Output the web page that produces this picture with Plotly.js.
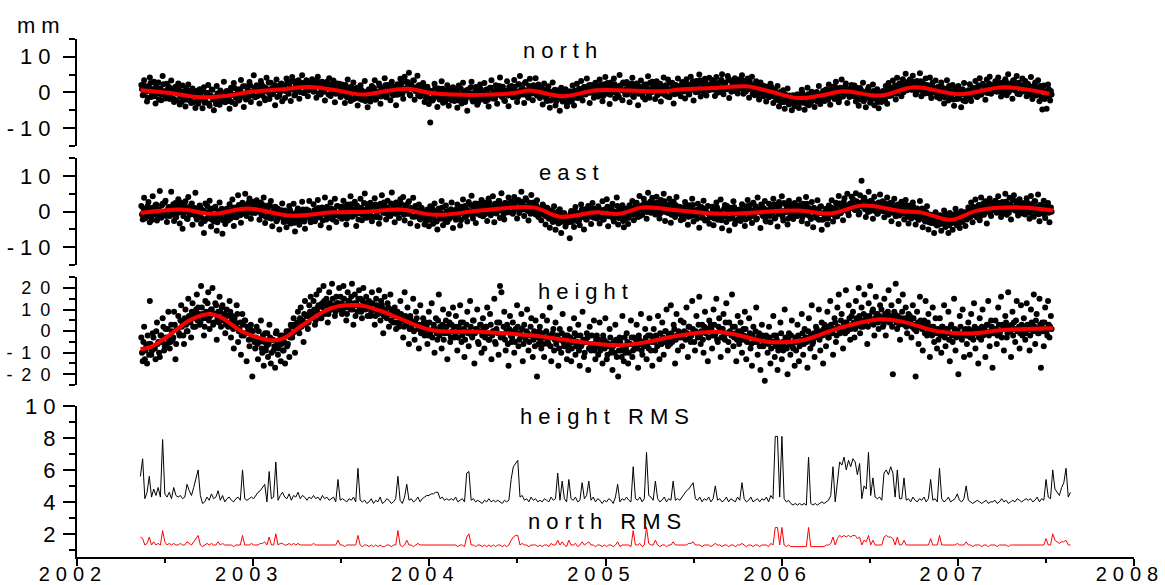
<!DOCTYPE html>
<html>
<head>
<meta charset="utf-8">
<script src="https://cdn.plot.ly/plotly-3.0.1.min.js"></script>
<style>
html,body{margin:0;padding:0;background:#fff;}
#chart{width:1165px;height:585px;}
.ytick text,.y2tick text,.y4tick text{letter-spacing:6px;}
.y3tick text{letter-spacing:9px;}
.x4tick text{letter-spacing:6px;}
.annotation-text{letter-spacing:6px;}
</style>
</head>
<body>
<div id="chart"></div>
<script>
// ---- axis ticks / labels ----
const yearTicks = [2002, 2003, 2004, 2005, 2006, 2007, 2008];
const yearLabels = ['2002', '2003', '2004', '2005', '2006', '2007', '2008'];
const halfYearTicks = [2002.5, 2003.5, 2004.5, 2005.5, 2006.5, 2007.5];
const neTicks = [-10, 0, 10];
const neLabels = ['-10', '0', '10'];
const neMinor = [-15, -5, 5, 15];
const hTicks = [-20, -10, 0, 10, 20];
const hLabels = ['-20', '-10', '0', '10', '20'];
const hMinor = [-25, -15, -5, 5, 15, 25];
const rmsTicks = [2, 4, 6, 8, 10];
const rmsLabels = ['2', '4', '6', '8', '10'];
const rmsMinor = [1, 3, 5, 7, 9];

// ---- daily solutions (mm); set A at scatterStart + i*step, set B half a step later ----
const scatterStart = 2002.365;
const scatterStep = 0.00808;

const northValues = [
 2.1,-0.8,3.4,0.5,-2.6,1.7,4.2,-1.3,0.9,3.0,-3.1,1.2,2.8,-0.4,-2.2,4.6,0.3,-1.7,2.4,1.0,
 -1.9,3.3,0.8,-2.7,1.6,-0.3,2.5,-3.4,0.1,1.9,-2.1,-4.0,0.6,2.2,-1.2,-3.0,1.1,-0.7,-4.4,0.4,
 -3.2,0.9,-1.8,-4.5,1.4,-2.6,-0.2,2.1,-3.8,-1.1,0.7,-5.0,-2.3,1.8,-0.9,-3.5,0.2,-1.6,3.0,-2.8,
 0.4,-2.4,-4.6,1.3,-0.6,2.6,-3.3,-1.5,0.8,-2.0,3.5,-0.3,-4.1,1.7,-1.2,0.5,2.9,-2.7,-0.1,4.8,
 -1.4,2.0,0.6,-3.1,3.2,-0.8,1.5,-2.2,4.1,0.1,-1.9,2.7,-0.5,1.1,-3.6,3.6,0.9,-1.0,2.3,-2.5,
 1.8,-1.6,3.9,0.3,2.6,-2.4,4.3,1.0,-0.7,3.1,0.6,-1.8,2.2,4.8,-0.2,1.5,3.4,-1.1,0.8,2.9,
 3.7,0.2,1.9,-1.5,4.4,2.3,-0.6,3.0,0.9,-2.3,2.6,1.2,4.0,-1.0,0.4,3.3,-2.8,1.7,0.0,2.4,
 -1.3,2.2,0.7,-3.0,1.4,3.6,-0.9,-2.4,0.3,2.8,-1.7,1.0,-3.7,0.5,2.0,-2.1,-0.4,3.2,-1.5,-4.2,
 0.9,-2.6,1.8,-0.7,3.4,-1.9,0.2,2.5,-3.2,1.1,-0.3,4.0,-1.4,2.1,0.6,-2.2,3.0,-0.8,1.5,-3.6,
 2.3,-0.5,3.8,1.2,-1.8,4.4,0.6,2.9,5.5,-0.9,1.7,3.3,-2.1,0.8,4.7,2.0,-1.2,0.1,2.6,-2.7,
 -1.5,1.6,-3.3,-8.5,0.4,-2.0,2.4,-0.7,-4.1,1.1,-1.6,3.1,-2.9,0.0,-0.9,2.0,-3.8,0.7,-2.2,1.4,
 -2.4,0.8,-4.3,1.9,-1.1,-3.1,2.7,0.1,-1.9,-5.2,0.9,-0.4,3.0,-2.6,-1.3,1.5,-3.5,0.3,2.2,-2.0,
 -0.8,2.6,-2.5,0.7,-4.0,1.3,3.4,-1.7,-0.2,2.0,-3.2,0.9,4.2,-1.0,1.6,-2.3,0.3,3.1,-3.9,0.5,
 1.8,-1.4,3.5,0.2,-2.7,2.3,4.6,-0.6,1.0,-3.0,2.9,0.6,-1.5,3.8,1.4,-2.2,0.8,4.0,-0.9,2.2,
 -1.6,1.1,-3.4,2.5,-0.5,-2.4,1.7,-4.3,0.0,2.8,-1.9,-3.7,0.6,-0.8,-5.2,1.3,-2.6,-1.2,0.9,-3.9,
 -2.8,0.3,-1.3,1.9,-3.7,-0.2,2.4,-1.6,0.8,3.2,-2.3,1.5,-0.6,3.9,0.4,-3.0,2.1,1.0,-1.5,2.7,
 1.9,-1.2,3.6,0.4,-2.5,2.3,4.3,-0.4,1.2,-3.3,2.8,0.0,3.9,-1.7,1.6,-0.9,4.9,0.7,-2.2,2.4,
 -0.6,2.9,0.8,-2.8,1.7,4.1,-1.3,0.3,2.5,-3.6,1.2,3.3,-0.7,0.9,-2.0,2.2,4.5,-1.5,0.6,3.0,
 1.4,-1.9,3.1,0.1,2.4,-2.6,0.9,4.2,-0.8,1.8,3.6,-1.4,0.5,2.7,-3.1,1.2,-0.3,3.9,0.8,-1.1,
 2.9,0.4,-1.7,3.7,1.5,-0.6,4.4,2.0,-2.3,1.0,3.2,0.2,5.0,-1.2,2.5,0.7,3.8,-0.9,1.9,4.1,
 0.8,3.5,1.6,-1.0,4.3,2.2,0.0,3.0,5.1,-0.5,2.6,1.1,4.6,-1.6,3.3,1.8,0.4,4.0,2.4,-0.3,
 3.6,1.2,4.8,-0.4,2.5,0.6,3.9,-1.5,2.0,4.4,0.9,-0.8,3.1,1.6,-2.0,2.8,0.3,-1.1,1.7,-2.6,
 1.5,-1.4,2.4,-0.3,-3.0,0.9,-2.1,1.8,-4.0,-0.9,-2.7,0.6,-4.6,-1.7,1.1,-3.4,-2.3,-5.0,-0.8,-3.9,
 -3.2,-0.5,-4.4,-1.8,0.7,-2.9,-4.9,-1.0,1.3,-3.6,-2.2,0.2,-1.4,-4.1,-0.3,-2.6,1.8,-3.3,-1.5,0.4,
 -2.4,0.8,-1.3,2.2,-3.5,0.2,1.6,-1.9,3.0,-0.6,-2.8,1.3,3.6,-1.2,0.5,2.5,-3.0,0.9,-0.4,2.1,
 -1.0,1.9,-2.6,0.6,-3.8,1.2,-0.7,2.7,-2.0,-4.2,0.3,1.5,-2.9,-0.3,2.2,-3.6,-1.5,0.9,-4.5,-0.8,
 -2.7,0.4,-1.5,1.8,-3.2,2.6,0.1,-0.9,3.3,1.4,-2.0,4.1,0.9,2.5,-1.1,3.7,1.7,5.2,0.6,2.9,
 3.6,0.8,4.7,2.1,-0.6,3.2,1.3,5.4,-1.1,2.5,0.4,3.9,-0.2,1.9,4.2,-1.6,2.8,0.1,3.3,-1.3,
 1.6,-1.7,2.8,-0.4,-3.1,1.0,3.4,-2.3,0.2,-1.0,2.1,-3.8,0.7,-1.9,1.8,-0.5,-4.2,0.9,2.6,-2.5,
 -1.8,0.6,2.3,-2.4,1.1,-0.2,3.2,-1.3,1.9,4.0,-0.7,2.4,0.3,-2.1,3.6,1.0,4.4,-0.4,2.0,0.8,
 3.1,0.2,4.2,1.6,-1.2,2.8,0.6,3.7,-0.8,5.1,1.3,2.5,-1.8,3.4,0.9,4.6,2.0,-0.5,1.8,3.9,
 0.9,3.2,-1.1,2.3,0.0,4.3,-1.9,1.5,2.8,-0.6,3.4,-2.5,0.7,-4.8,1.9,-1.4,-4.6,2.2,-0.9,0.4
];
const northValuesB = [
 0.9,-0.7,1.8,0.2,-1.5,1.2,2.6,-0.3,0.7,-1.1,1.9,0.4,-2.0,1.1,-0.5,2.3,0.0,-1.3,0.8,1.5,
 -0.6,1.0,-1.8,0.3,-2.2,-0.1,1.4,-1.2,-2.6,0.2,-0.9,1.1,-2.1,-0.4,-1.6,0.6,-2.8,-1.0,0.0,-1.9,
 -2.4,-0.5,-1.7,0.4,-2.9,-1.2,-0.2,-3.1,-0.9,0.8,-2.0,-1.4,-3.3,-0.3,-1.8,0.5,-2.6,-1.1,-0.6,-2.2,
 -0.4,-1.9,0.6,-2.7,-0.8,1.2,-1.5,-0.1,-2.3,0.9,-1.0,1.7,-0.6,-2.0,0.3,-1.2,1.9,0.1,-0.9,1.3,
 0.8,-1.1,1.6,-0.4,2.3,0.2,-1.6,1.2,0.5,2.8,-0.7,1.0,-0.2,2.1,0.6,-1.3,1.8,0.0,2.5,0.9,
 1.9,0.3,2.7,-0.4,1.3,3.1,0.8,-0.9,2.2,1.0,3.4,0.1,1.7,2.6,-0.2,1.4,3.0,0.6,2.0,1.2,
 2.4,0.6,1.7,3.2,-0.3,1.9,0.9,2.8,0.2,1.4,3.0,-0.6,1.1,2.2,0.4,1.6,-0.4,2.5,0.8,0.0,
 1.2,-0.8,0.5,2.1,-1.4,0.9,-0.3,1.6,-2.0,0.1,-1.0,1.3,-0.5,-1.8,0.7,-1.2,0.2,-2.4,-0.7,0.6,
 -1.5,0.4,-0.9,1.2,-2.1,0.0,-0.6,1.8,-1.2,0.7,-0.2,2.0,-1.0,1.1,0.3,2.4,-0.4,1.5,0.8,-0.7,
 1.6,0.2,2.5,-0.3,1.1,3.0,0.7,1.9,-0.6,2.2,1.0,3.3,0.4,1.5,-0.8,2.0,0.6,-0.2,1.3,0.1,
 -0.9,0.7,-1.7,0.2,-2.3,-0.5,1.3,-1.1,0.4,-2.0,-0.2,1.0,-1.5,-2.6,0.5,-0.8,-1.9,0.8,-0.4,-1.3,
 -1.4,0.3,-2.2,-0.6,1.0,-1.8,-0.1,-2.7,0.6,-1.1,-0.4,1.4,-2.0,-0.9,0.2,-1.6,-3.0,-0.3,0.9,-1.2,
 -0.2,-1.5,0.8,-2.1,-0.5,1.3,-1.0,0.2,-1.8,1.0,-0.7,1.8,-0.1,-1.3,0.6,-2.4,0.3,-0.9,1.5,-0.4,
 0.7,-0.9,1.6,0.1,-1.4,2.2,0.5,1.2,-0.6,2.6,0.2,-1.1,1.8,0.9,-0.3,2.0,0.4,1.4,-0.8,0.6,
 -0.1,1.2,-1.0,0.4,-1.9,0.9,-0.6,-2.3,0.2,-1.3,0.7,-2.6,-0.8,-1.6,0.1,-2.1,-1.0,-0.3,-2.8,-1.4,
 -1.8,-0.3,-2.4,-0.9,0.5,-1.5,-0.2,1.0,-1.1,0.3,-0.6,1.5,-0.4,0.8,2.0,-0.1,1.1,0.4,-0.8,1.6,
 1.3,-0.4,2.1,0.5,-1.0,1.7,0.0,2.6,0.8,-0.7,1.4,0.2,2.3,-0.2,1.0,-1.3,1.9,0.6,2.8,0.3,
 0.9,-0.6,1.8,0.3,2.5,-1.1,1.2,0.1,2.0,-0.4,1.5,0.7,-1.4,2.2,0.4,1.1,-0.7,2.7,0.0,1.6,
 0.5,1.7,-0.8,1.0,2.4,-0.3,1.3,0.2,2.0,-1.2,0.8,2.7,0.0,1.5,-0.5,2.1,0.9,-0.1,1.8,1.2,
 1.9,0.3,2.6,1.1,-0.4,2.2,0.7,3.1,1.4,0.0,2.4,1.0,3.4,0.5,1.7,-0.2,2.8,1.3,0.6,2.0,
 2.3,0.8,3.0,1.5,-0.1,2.6,1.1,3.5,0.5,1.9,2.8,0.9,3.8,1.3,0.2,2.4,1.7,3.2,0.7,2.1,
 2.6,1.0,3.3,1.8,0.2,2.4,0.9,3.0,1.4,-0.3,2.1,0.6,1.7,-0.5,1.2,0.3,1.9,-0.8,0.8,0.1,
 0.9,-0.5,1.5,0.0,-1.2,0.6,-1.8,-0.3,-2.4,0.2,-1.0,-2.7,-0.6,-1.6,-3.0,-0.9,-2.2,-1.3,-3.2,-1.9,
 -2.3,-0.8,-3.0,-1.5,-0.2,-2.6,-1.1,-3.3,-0.5,-1.9,-2.8,-0.9,-1.4,-2.2,0.1,-1.7,-0.6,-2.5,-1.0,-0.3,
 -1.5,0.2,-2.1,-0.6,0.9,-1.2,-0.2,1.5,-0.9,0.4,-1.7,1.1,0.0,-0.7,1.8,-0.4,0.7,-1.3,1.2,0.3,
 0.5,-1.2,1.3,-0.4,-2.0,0.8,-0.9,-2.5,0.2,-1.5,0.9,-0.6,-2.2,-1.0,0.4,-1.8,-0.3,-2.7,-1.1,-0.2,
 -1.6,0.1,-2.2,-0.5,0.8,-1.0,1.3,-0.2,0.6,1.9,-0.4,1.2,2.4,0.5,1.7,0.0,2.2,1.0,2.9,1.5,
 2.2,0.7,2.9,1.3,0.0,2.5,1.0,3.1,0.4,1.8,-0.3,2.1,0.8,1.5,-0.6,1.9,0.2,1.2,-0.2,0.9,
 0.8,-0.7,1.5,0.1,-1.4,0.9,-0.3,1.8,-1.1,0.4,-2.0,0.0,1.2,-0.8,-1.7,0.6,-0.5,-2.3,0.2,-1.0,
 -0.9,0.5,-1.6,0.2,1.3,-0.6,0.9,-1.2,1.8,0.3,-0.4,2.1,0.8,1.4,-0.2,2.5,0.6,1.1,2.0,0.4,
 1.8,0.4,2.6,1.1,-0.3,2.2,0.8,3.0,1.5,0.1,2.4,1.0,3.3,0.6,1.9,-0.4,2.7,1.3,0.2,2.0,
 1.7,0.3,2.4,0.9,-0.6,1.5,0.0,2.1,-0.9,1.1,-0.3,1.8,-1.4,0.6,-1.9,0.2,-1.0,0.9,-2.3,-0.6
];

const eastValues = [
 1.6,-2.2,3.9,0.3,-1.4,2.7,-3.0,0.9,4.3,-0.8,1.9,-2.5,0.4,5.8,-1.7,2.2,-0.3,3.1,-2.9,1.1,
 -1.2,5.6,0.7,-2.6,2.4,-0.5,3.5,-3.3,1.3,-4.8,0.0,2.9,-1.9,4.1,-0.9,1.8,-3.7,0.6,5.3,-2.2,
 -1.5,1.7,-3.4,0.4,-6.0,2.3,-2.0,-0.6,3.1,-4.2,0.9,-2.8,1.4,-5.4,-0.3,2.6,-1.9,-6.2,0.2,-3.5,
 0.8,-2.5,2.1,-0.9,3.4,-4.0,1.2,-1.6,4.6,0.3,-3.1,2.5,0.9,5.0,-1.2,1.9,3.7,-2.0,0.6,2.8,
 -0.4,3.2,1.1,-2.3,2.6,-0.8,4.0,-3.2,0.5,1.7,-1.8,3.0,-4.1,-0.3,1.4,-2.7,0.8,-5.0,-1.1,2.3,
 -2.9,0.3,-4.4,-1.2,1.6,-3.3,-0.5,2.2,-5.6,-1.8,0.9,-3.7,-0.1,2.8,-2.4,-4.8,0.6,-1.5,3.0,-3.0,
 -0.9,2.1,-2.7,0.6,3.3,-1.6,-3.8,1.2,-0.4,4.0,-2.2,0.8,-4.5,2.6,-1.1,0.1,3.6,-2.9,1.5,-0.7,
 1.4,-2.0,3.1,0.2,-3.6,2.0,-0.9,4.3,-1.4,0.7,2.8,-4.0,1.0,-0.4,3.6,-2.4,0.4,5.1,-1.7,2.1,
 -0.7,2.5,-2.7,1.1,3.8,-1.5,0.4,-3.4,2.2,4.6,-0.3,1.6,-2.2,3.1,0.5,-1.2,5.4,0.9,-3.0,2.6,
 1.2,-1.8,3.5,0.0,4.1,-2.5,1.7,-0.6,2.9,-3.3,0.8,3.9,-1.4,0.3,-4.0,2.0,-2.2,1.0,-0.9,-3.6,
 -2.6,0.6,-4.1,1.5,-1.2,-3.4,2.3,-0.2,-5.0,0.9,-2.0,3.0,-3.8,-0.8,1.7,-2.9,0.2,-1.6,2.6,-4.6,
 0.3,-2.3,2.0,-0.7,-3.9,1.4,3.4,-1.5,0.6,-2.8,2.7,-0.1,4.5,-1.9,1.0,-3.2,2.2,0.4,-1.0,3.3,
 -1.3,2.6,0.5,-2.6,3.7,1.2,-0.5,4.3,-3.0,1.9,0.0,3.0,-1.8,5.2,0.8,-2.2,2.4,-0.2,4.0,1.5,
 2.8,-0.6,4.1,1.0,-1.9,3.3,0.3,5.6,2.1,-1.2,3.8,0.9,-2.5,2.5,4.7,0.1,1.7,-0.8,3.2,-1.5,
 0.4,-2.4,2.0,-0.9,-3.6,1.1,-1.7,-4.5,0.0,-2.9,1.5,-5.1,-1.0,-3.3,0.7,-6.0,-2.3,-0.4,-4.2,-1.6,
 -3.0,-7.5,0.2,-1.9,-4.3,1.3,-2.6,-0.5,-3.8,2.0,-1.4,-5.0,0.7,-2.2,1.6,-0.9,-3.5,2.4,-1.7,0.4,
 -1.9,1.5,-3.3,0.4,2.9,-2.1,-0.6,3.5,-4.1,0.9,-1.3,2.2,-2.8,-0.1,4.0,-3.6,0.6,-1.7,1.8,-4.4,
 -2.1,0.9,-3.5,1.8,-0.7,3.0,-2.4,0.3,2.5,-1.5,4.4,0.7,-0.9,3.6,1.4,-2.0,5.3,2.2,-0.3,3.9,
 2.4,-0.8,4.2,1.1,-1.9,3.3,0.0,5.0,-2.6,1.7,-0.4,3.6,-3.1,0.6,2.8,-1.5,4.1,-0.2,1.4,-2.4,
 1.2,-2.1,2.7,-0.5,-3.7,1.8,-1.2,3.6,-2.8,0.3,-0.9,2.2,-4.5,0.8,-1.7,3.1,-2.5,-0.2,1.6,-3.4,
 -1.6,1.4,-3.8,0.5,2.6,-2.3,-0.4,3.4,-4.7,-1.1,1.9,-2.9,0.2,-5.3,1.1,-1.8,2.9,-3.5,0.0,-2.2,
 0.6,-2.6,2.1,-0.9,-4.0,1.5,3.3,-1.8,0.4,-3.2,2.5,-0.2,-2.2,4.0,0.9,-4.6,1.7,-1.3,3.0,-2.8,
 -1.0,2.2,-3.0,0.5,3.6,-1.9,1.1,-4.2,2.7,-0.6,4.3,-2.5,0.2,1.9,-3.6,3.1,-0.9,0.8,-2.1,2.4,
 1.5,-1.2,3.4,0.0,-2.7,2.2,-0.6,4.1,-3.4,1.0,-1.6,2.7,-4.4,0.5,-0.9,3.2,-2.3,1.3,-5.1,-0.4,
 -2.0,0.8,-3.6,1.7,-0.5,3.2,-2.8,0.2,2.5,-1.3,4.4,-0.3,1.6,-2.4,3.8,0.9,5.0,-1.0,2.3,4.2,
 3.5,0.6,5.2,2.1,-0.8,4.6,8.7,1.3,3.9,-1.5,2.7,5.6,0.1,3.1,-2.0,4.2,1.7,-0.6,2.6,4.8,
 0.3,2.9,-1.6,1.9,4.0,-0.8,2.4,-2.7,0.9,3.6,-1.3,1.4,-3.5,0.6,2.8,-0.4,-2.2,3.3,0.0,-3.3,
 1.7,-1.9,2.6,-0.7,-3.6,0.9,-2.3,3.0,-1.3,-4.4,0.4,-2.8,1.5,-5.0,-0.9,-3.2,-1.7,-6.0,-0.2,-3.9,
 -3.7,-1.0,-5.4,-2.4,0.3,-4.3,-1.9,-6.0,-0.4,-3.2,-5.1,-1.5,0.8,-3.8,-2.2,-4.6,0.1,-2.8,-1.1,-4.0,
 -2.2,1.2,-0.8,2.6,-3.0,0.4,3.4,-1.6,1.7,-2.4,4.0,0.2,-0.9,2.9,-3.3,1.4,3.7,-1.2,0.6,2.5,
 3.1,-0.3,4.3,1.3,-1.5,2.7,0.5,5.0,-0.9,2.0,3.9,-2.2,1.1,4.6,0.3,2.9,-1.1,3.5,1.8,-0.5,
 2.4,-0.8,3.8,0.7,-2.0,4.4,1.4,-1.4,2.9,0.0,4.8,-2.7,1.9,-0.4,3.1,-1.8,0.9,2.4,-3.0,1.2
];
const eastValuesB = [
 -0.8,0.9,-1.9,0.2,1.6,-1.1,0.5,-2.3,1.2,-0.3,2.0,-1.5,0.7,-0.6,1.8,-0.1,2.6,-1.2,0.4,1.3,
 0.9,-0.8,2.1,0.3,-1.6,1.4,-0.2,2.6,0.6,-1.2,1.8,0.0,-2.1,1.1,0.5,2.3,-0.7,1.0,-1.4,0.4,
 -0.7,1.2,-1.8,0.3,-2.6,-0.2,1.5,-1.3,0.6,-2.2,-0.9,0.9,-1.6,-3.0,0.1,-1.1,0.8,-2.4,-0.4,-1.7,
 -1.2,0.4,-2.0,-0.5,1.1,-1.5,0.7,-0.1,1.9,-1.0,0.3,2.2,-0.6,1.4,0.0,2.6,0.8,-0.4,1.7,1.0,
 1.5,0.0,2.3,0.6,-1.0,1.9,0.3,-1.5,1.0,-0.4,1.6,-1.9,0.2,-0.9,1.2,-2.2,-0.3,-1.4,0.4,-1.8,
 -1.7,-0.2,-2.6,-1.0,0.5,-2.0,-0.6,-3.1,-1.3,0.2,-2.3,-0.8,-1.6,0.6,-2.8,-0.4,-1.2,0.3,-2.1,-0.7,
 -1.3,0.4,-2.1,-0.6,1.0,-1.5,0.0,-2.5,0.7,-0.9,1.4,-1.8,-0.3,0.9,-2.2,0.3,-1.1,1.6,-0.5,-1.4,
 0.6,-1.0,1.5,-0.4,-1.9,0.9,-0.2,2.1,-1.3,0.3,-0.7,1.7,-2.2,0.5,1.1,-0.9,2.4,-0.3,0.8,-1.6,
 -0.5,1.1,-1.4,0.6,2.0,-0.8,0.9,-1.7,1.5,0.2,2.6,-0.4,1.2,-1.1,0.7,2.3,0.0,1.8,-0.6,1.0,
 1.4,-0.2,2.2,0.6,-0.9,1.7,0.1,2.5,-0.6,1.0,-1.4,0.4,1.6,-1.1,0.2,-2.0,0.8,-0.7,-1.6,0.0,
 -1.4,0.2,-2.3,-0.6,0.9,-1.8,-0.2,-2.8,0.5,-1.1,-0.4,1.2,-1.6,-2.5,0.1,-0.9,-2.0,0.7,-1.3,-0.3,
 -0.9,0.7,-1.8,0.1,-2.4,1.0,-0.5,1.6,-1.2,0.4,-0.3,1.9,-1.0,0.8,2.3,-0.6,1.3,0.0,1.9,-0.4,
 0.9,-0.7,1.8,0.3,2.6,-1.0,1.2,0.1,2.2,-0.5,1.5,3.0,0.4,1.9,-0.8,2.4,0.7,1.3,-0.2,2.8,
 1.5,0.0,2.4,0.9,3.1,-0.4,1.8,2.7,0.6,1.4,3.3,0.2,2.0,-0.6,1.2,2.6,0.4,1.7,-0.2,0.9,
 0.8,-0.6,1.5,0.0,-1.3,0.9,-2.0,-0.4,0.3,-1.7,-0.9,-2.6,0.0,-1.4,-3.0,-0.7,-2.2,-1.1,-3.3,-1.6,
 -2.1,-0.6,-2.9,-1.3,0.2,-1.9,-0.4,-2.5,-1.0,0.6,-1.5,-0.1,-2.2,0.4,-0.8,1.0,-1.4,-0.3,0.8,-1.1,
 -0.7,0.9,-1.6,0.2,-2.3,0.6,-0.9,1.4,-1.3,-0.2,1.1,-2.0,0.0,-1.0,1.6,-1.8,-0.4,0.8,-2.6,-0.6,
 -1.0,0.6,-1.7,0.0,1.2,-0.8,0.4,2.0,-0.3,1.0,-1.2,1.7,0.3,2.5,0.9,-0.1,1.6,2.8,0.5,1.9,
 1.7,0.2,2.5,0.9,-0.5,2.0,0.6,2.9,-0.1,1.3,0.4,2.2,-0.9,1.0,0.0,1.8,-0.6,1.1,0.3,-1.1,
 0.8,-0.8,1.5,0.1,-1.4,1.0,-0.5,1.9,-1.1,0.4,-2.0,0.7,-0.3,1.3,-1.7,-0.1,0.9,-2.3,-0.6,-1.2,
 -1.1,0.6,-1.9,-0.3,1.2,-1.5,0.1,-2.4,-0.7,0.9,-1.3,1.6,-0.2,-2.0,0.4,-1.0,1.3,-2.6,-0.5,0.2,
 -0.8,0.7,-1.6,0.2,-2.2,1.1,-0.4,1.8,-1.3,0.3,-0.9,1.5,-1.9,0.6,-0.2,2.0,-1.1,0.9,-2.5,0.0,
 0.5,-1.2,1.4,-0.3,2.1,-1.7,0.8,-0.6,1.7,0.2,-1.4,2.4,-0.2,1.1,-2.0,0.7,1.9,-0.9,0.4,1.3,
 0.9,-0.6,1.8,0.2,-1.5,1.3,-0.1,2.2,-1.0,0.6,-2.1,0.3,1.1,-0.8,-1.8,0.7,-0.4,1.5,-2.3,-0.7,
 -1.0,0.5,-1.9,0.0,1.2,-0.7,0.8,-1.4,1.7,0.2,2.3,-0.4,1.1,2.7,0.4,1.6,-0.2,2.0,1.0,2.6,
 2.1,0.5,2.9,1.2,-0.3,2.5,1.6,3.4,0.7,2.0,-0.1,1.5,3.1,0.9,2.3,0.2,1.8,-0.5,1.2,2.6,
 1.6,0.1,2.3,0.7,-0.8,1.9,0.3,2.6,-0.4,1.2,0.0,2.0,-1.1,0.8,1.5,-0.6,0.4,1.8,-1.4,0.2,
 0.6,-0.9,1.3,-0.3,-1.6,0.4,-2.2,-0.7,0.9,-1.4,-2.6,-0.2,-1.8,-3.0,-0.9,-2.3,-1.2,-3.4,-2.0,-1.5,
 -2.7,-1.2,-3.4,-1.9,-0.6,-2.9,-1.5,-3.8,-2.3,-0.9,-3.1,-1.7,-0.4,-2.5,-1.1,-3.0,-0.7,-1.9,-0.2,-1.4,
 -0.8,0.7,-1.5,0.2,1.4,-1.0,0.5,-0.3,1.9,-1.2,0.9,2.2,-0.4,1.3,0.1,2.5,-0.6,1.0,1.8,0.4,
 1.5,0.0,2.4,0.8,-0.6,1.9,0.4,2.8,1.2,-0.3,2.1,0.9,3.2,0.5,1.7,-0.1,2.6,1.3,0.2,2.0,
 1.8,0.4,2.5,1.0,-0.4,2.1,0.6,2.9,0.0,1.4,-0.7,1.9,0.3,1.2,-0.9,1.6,0.5,-0.3,1.1,0.0
];

const heightValues = [
 -3,-14,2,-9,-15,-6,14,-11,-1,-8,-13,4,-5,-12,-2,6,-9,1,-6,9,
 -8,3,-4,9,-13,1,7,-2,12,4,-6,10,0,15,6,-3,13,8,2,17,
 11,3,21,8,-2,14,6,18,1,10,20,4,13,-4,9,16,2,12,7,-1,
 10,2,14,-3,7,-8,4,12,-5,1,-11,8,-2,5,-14,0,-7,3,-21,-4,
 -8,2,-13,-5,5,-10,-16,-1,-7,-12,3,-15,-4,-9,-17,0,-11,-6,-14,-2,
 -9,-15,0,-6,-12,3,-3,6,-10,2,9,-1,11,4,-5,14,7,1,12,16,
 9,14,3,17,11,19,6,13,21,8,15,4,18,10,22,12,7,16,13,20,
 16,8,21,12,5,18,14,10,22,3,17,13,9,19,15,6,20,11,16,7,
 14,7,18,10,3,15,9,19,5,12,-1,16,8,13,2,17,10,4,11,1,
 9,2,14,6,-3,18,4,11,-6,7,1,15,-4,9,3,-8,12,0,6,-2,
 4,-6,9,-2,13,1,-10,6,-4,17,2,-8,10,-1,5,-13,8,-5,3,11,
 -3,7,-9,2,12,-5,4,-12,0,9,-7,14,-2,5,-15,1,10,-6,3,-10,
 6,-8,2,11,-4,8,-13,0,15,-6,4,-11,21,18,-2,9,-9,3,-16,7,
 -5,4,-10,1,12,-7,-1,8,-14,3,-4,10,-9,-2,6,-12,0,5,-21,-6,
 2,-8,7,-12,-3,5,-6,11,-14,-1,-9,4,-4,-16,1,-10,8,-7,-2,-13,
 -9,1,-14,-5,6,-11,-2,3,-16,-7,9,-12,-4,-1,-18,2,-9,-6,5,-13,
 -2,-11,4,-8,-15,-4,6,-13,-7,1,-10,-18,-5,3,-12,-21,-3,-9,7,-14,
 -10,-1,-15,-6,5,-12,-3,-8,3,-17,-4,8,-11,-7,1,-13,-2,6,-9,-16,
 1,-9,-3,7,-13,-6,4,-11,0,10,-7,-2,12,-5,3,-15,8,-9,-1,5,
 -7,4,-1,11,-12,2,-5,14,0,-9,7,-3,16,-6,3,-10,9,1,-14,5,
 3,-8,10,-2,15,-5,6,-12,1,8,-4,13,-9,4,-1,17,-7,2,-14,7,
 -6,4,-10,1,9,-13,-3,6,-8,-16,2,-5,11,-11,-1,-18,3,-7,-23,-2,
 -10,2,-15,-5,7,-12,-2,-18,-7,4,-13,-9,10,-4,-20,-1,-11,5,-8,-16,
 -9,3,-14,-6,8,-11,1,-3,-17,6,-8,12,-5,-12,2,-1,10,-9,4,-15,
 3,-7,9,-3,14,1,-11,6,-5,11,17,-1,8,-8,4,19,0,12,-4,7,
 9,-3,14,5,20,-1,11,2,17,7,-6,13,21,4,10,-2,16,8,1,12,
 10,2,15,-2,7,19,4,12,-20,9,22,1,14,-4,6,17,3,11,-1,8,
 7,-3,12,1,-21,9,-6,16,3,-9,5,14,-2,8,-12,2,11,-5,6,-8,
 -4,6,-10,2,12,-7,-1,9,-14,3,-5,15,-9,0,-20,7,-3,10,-12,1,
 -6,4,-11,8,-2,13,-8,1,-15,6,-4,10,-1,-12,3,14,-7,5,-17,0,
 5,-6,11,-1,16,3,-9,7,-3,18,0,-12,9,4,-5,14,1,-8,12,-2,
 6,-4,13,1,-9,10,3,17,-6,8,-1,15,-17,4,-7,11,0,14,-3,7
];
const heightValuesB = [
 -10,-5,-13,-7,-2,-11,-6,-9,-3,-8,0,-6,-10,-2,-5,2,-7,-3,1,-4,
 -5,0,-3,3,-6,1,-1,5,2,-2,6,3,0,7,4,9,2,6,10,5,
 8,4,11,6,2,9,13,5,7,10,3,8,12,6,4,9,11,5,8,3,
 7,3,9,5,1,6,2,8,0,4,-2,3,5,-1,2,-4,1,-3,0,-5,
 -3,-6,0,-4,-8,-2,-5,-9,-1,-6,-3,-10,-4,-7,-1,-5,-8,-2,-6,-9,
 -5,-2,-7,0,-3,2,-1,3,0,4,1,6,2,5,8,3,7,4,9,6,
 7,10,5,9,12,8,6,11,14,9,12,8,13,10,15,11,9,13,12,10,
 13,9,15,11,8,14,12,16,10,13,7,12,15,11,9,14,12,10,13,11,
 12,9,13,10,7,12,8,11,14,9,7,10,6,11,8,5,9,7,4,8,
 7,4,8,5,2,7,3,6,1,5,3,0,4,6,1,3,-1,2,4,0,
 2,-2,4,0,-3,3,1,-1,5,-2,0,3,-4,1,2,-1,4,-3,0,2,
 -1,2,-3,0,4,-2,1,-4,3,-1,0,2,-3,5,-1,1,-5,0,3,-2,
 1,-3,2,-1,-4,3,-2,0,-5,1,-1,4,-3,-2,2,-4,0,-6,1,-2,
 -3,0,-5,-1,2,-4,-2,1,-6,-3,0,-1,-5,2,-2,-4,-7,-1,-3,0,
 -4,-1,-6,-3,0,-5,-2,-7,-3,1,-4,-6,-2,-8,-4,-1,-5,-3,-7,-2,
 -6,-3,-8,-4,-1,-7,-5,-9,-2,-6,-4,-10,-5,-3,-8,-6,-2,-7,-9,-4,
 -7,-4,-9,-6,-2,-8,-5,-11,-6,-3,-8,-7,-10,-4,-6,-9,-5,-12,-7,-3,
 -8,-5,-10,-6,-3,-9,-7,-4,-8,-2,-6,-9,-5,-7,-3,-6,-8,-2,-5,-4,
 -5,-2,-7,-4,-1,-6,-3,-5,0,-4,-2,-6,-1,-3,1,-4,-2,0,-3,-1,
 -3,0,-4,-1,2,-3,-2,1,-5,0,-1,3,-2,0,-4,2,-1,1,-3,0,
 1,-2,3,-1,-4,2,0,-3,1,-2,4,-1,-5,0,-2,2,-3,-1,-4,0,
 -3,0,-4,-2,1,-5,-3,-1,-6,-2,-4,0,-5,-3,-7,-4,-2,-6,-5,-3,
 -6,-3,-8,-5,-2,-7,-4,-9,-6,-1,-5,-7,-3,-8,-4,-6,-2,-7,-5,-3,
 -5,-2,-7,-4,-1,-6,-3,-5,0,-4,-2,-6,-1,-3,1,-2,-4,0,-2,1,
 -1,2,-3,0,3,-1,1,4,-2,2,0,5,1,3,-1,4,2,6,1,3,
 4,1,6,3,7,2,5,8,4,6,2,7,5,9,3,6,8,4,7,5,
 6,3,8,5,9,4,7,2,6,8,4,7,3,5,9,4,6,2,5,3,
 5,2,6,3,0,4,2,5,1,3,-1,2,4,0,1,-2,2,0,-1,1,
 1,-2,2,-1,-3,1,0,-4,2,-2,-1,1,-3,0,-2,2,-4,-1,0,-2,
 -2,1,-3,0,-4,2,-1,1,-3,0,2,-2,1,-1,3,-2,0,2,-1,1,
 1,-2,3,0,-3,2,1,4,-1,2,0,3,-2,1,5,0,2,-1,3,1,
 2,-1,3,1,-2,4,0,2,5,1,-1,3,2,0,4,1,-2,3,2,1
];

// ---- smoothed signals (red curves) ----
const northTrendYears = [2002.36,2002.53,2002.68,2002.84,2002.98,2003.15,2003.32,2003.47,2003.62,2003.75,2003.88,2004.01,2004.19,2004.48,2004.57,2004.76,2004.95,2005.14,2005.33,2005.42,2005.61,2005.80,2005.93,2006.09,2006.22,2006.35,2006.56,2006.75,2007.01,2007.26,2007.52];
const northTrend = [0.6,-0.2,-1.3,-1.0,0.1,0.8,1.5,0.6,-0.6,0.3,1.0,-0.2,-0.7,-0.2,0.5,-1.1,0.6,0.5,0.3,0.8,1.2,1.7,0.3,-1.6,-0.9,0.3,-0.9,1.4,-0.5,1.4,-0.4];

const eastTrendYears = [2002.36,2002.59,2002.77,2002.97,2003.21,2003.45,2003.65,2003.83,2004.04,2004.29,2004.59,2004.74,2004.95,2005.08,2005.21,2005.42,2005.65,2006.09,2006.28,2006.46,2006.69,2006.79,2006.96,2007.11,2007.35,2007.54];
const eastTrend = [-0.4,0.6,-0.6,0.9,-1.1,-0.2,0.0,0.6,-0.9,0.3,1.2,-1.4,-0.2,-0.6,1.2,0.3,-0.6,0.3,-0.5,1.7,0.1,-0.2,-2.3,0.3,1.2,0.3];

const heightTrendYears = [2002.36,2002.42,2002.51,2002.64,2002.74,2002.81,2002.94,2003.10,2003.17,2003.28,2003.44,2003.59,2003.72,2003.83,2004.01,2004.29,2004.57,2004.86,2005.08,2005.24,2005.37,2005.61,2005.71,2005.93,2006.12,2006.32,2006.56,2006.69,2006.88,2007.07,2007.26,2007.54];
const heightTrend = [-8.4,-7.3,-2.7,5.1,7.9,6.7,-0.3,-4.2,-3.4,2.8,10.6,12.1,9.5,5.9,0.5,-0.3,-1.9,-5.0,-6.5,-5.0,-2.7,-0.3,-1.1,-5.0,-4.2,1.3,5.5,4.3,0.0,-1.1,0.5,1.3];

// ---- RMS series (mm), sampled every rmsStep years from rmsStart ----
const rmsStart = 2002.36;
const rmsStep = 0.0126;

const heightRms = [
 5.6,6.7,4.2,4.6,5.6,4.3,4.8,4.4,4.9,4.3,7.9,4.5,4.3,4.6,4.2,4.9,4.4,4.3,4.4,4.2,
 4.3,5.1,4.7,4.4,4.9,5.5,6.0,4.4,3.9,4.0,4.3,4.1,4.5,4.2,4.3,4.7,4.1,4.4,4.0,4.2,
 4.3,4.1,4.0,4.2,4.3,4.1,6.0,4.2,4.1,4.2,4.3,4.2,4.4,4.6,4.7,4.9,5.1,4.0,5.9,4.2,
 4.3,6.5,4.1,4.4,4.6,4.3,4.2,4.5,4.1,4.4,4.3,4.6,4.2,4.4,4.3,4.1,4.3,4.2,4.4,4.2,
 4.3,4.1,4.4,4.2,4.3,4.1,4.2,4.3,4.0,5.4,4.1,4.2,4.1,4.0,4.2,4.1,4.3,4.0,6.1,4.1,
 4.0,4.1,3.9,4.0,4.2,3.9,4.1,4.0,4.3,3.9,4.0,4.2,4.1,3.9,4.0,4.2,5.6,4.1,3.9,4.3,
 5.1,4.1,4.2,4.0,4.1,4.3,4.0,4.2,4.3,4.4,4.4,4.5,4.5,4.6,4.6,4.2,4.3,4.1,4.2,4.1,
 4.2,4.1,4.3,4.0,4.1,4.2,4.0,5.8,5.9,4.1,4.2,4.0,4.1,4.0,3.9,4.1,4.0,4.2,4.0,4.1,
 4.0,4.1,4.0,3.9,4.1,4.0,4.1,5.4,6.2,6.4,6.6,4.3,4.4,4.1,4.2,4.0,4.3,4.1,4.2,4.0,
 4.1,4.0,4.2,4.1,4.0,4.3,4.1,4.2,5.8,4.1,5.3,4.2,4.0,5.4,4.2,4.1,4.3,4.0,4.1,5.2,
 4.2,4.4,5.3,4.1,4.3,4.0,4.2,4.1,3.9,4.1,4.0,4.2,4.1,3.9,4.3,5.1,4.0,4.2,4.1,4.3,
 4.1,4.0,6.2,4.2,4.1,4.3,4.0,4.2,7.1,4.4,4.3,4.1,5.3,4.2,4.0,4.1,4.3,4.0,4.2,4.1,
 5.3,4.1,4.2,4.1,4.3,4.5,4.7,4.8,5.0,5.2,4.2,4.1,4.3,4.0,4.2,4.1,4.3,4.0,4.2,5.0,
 4.1,4.2,4.0,4.1,4.3,4.0,4.2,4.1,4.0,4.3,4.1,5.2,4.2,4.0,4.1,4.3,4.0,4.1,4.2,4.0,
 4.2,4.1,4.3,4.0,4.4,4.2,8.1,8.1,4.3,8.1,4.2,4.0,4.1,3.9,3.8,3.9,3.8,3.9,3.8,3.9,
 3.8,6.8,3.9,3.8,3.9,3.8,3.9,4.0,3.9,4.0,4.1,4.4,6.2,4.0,5.5,6.5,6.3,6.8,6.0,6.6,
 6.2,6.7,6.5,5.7,6.4,4.2,5.0,4.8,7.1,4.4,5.5,4.3,4.2,4.3,4.1,5.8,6.0,5.7,6.2,5.8,
 4.3,6.0,4.2,4.2,5.5,4.1,4.2,4.0,4.3,4.1,4.0,4.2,4.1,4.3,4.0,4.2,5.4,4.1,4.2,4.0,
 6.1,4.2,4.0,4.1,4.3,4.0,4.1,4.2,4.5,4.1,4.0,4.2,5.0,4.1,4.0,3.9,4.0,4.1,4.0,3.9,
 4.0,4.1,3.9,4.0,4.0,4.1,3.9,4.0,4.2,4.0,4.1,3.9,4.0,4.1,4.0,4.2,4.1,4.0,4.1,4.2,
 4.1,4.2,4.0,4.1,4.3,4.0,4.2,4.1,5.4,4.3,4.2,6.0,4.8,4.6,4.4,4.9,5.2,6.1,4.3,4.6
];

const northRms = [
 1.8,1.7,1.3,1.4,1.8,1.3,1.5,1.3,1.4,1.3,2.2,1.5,1.3,1.4,1.3,1.4,1.3,1.3,1.4,1.3,
 1.3,1.5,1.4,1.3,1.5,1.7,1.9,1.3,1.2,1.3,1.4,1.3,1.4,1.3,1.3,1.5,1.3,1.4,1.3,1.3,
 1.3,1.3,1.2,1.3,1.3,1.3,1.9,1.3,1.3,1.3,1.4,1.3,1.3,1.3,1.4,1.4,1.5,1.3,1.8,1.3,
 1.3,2.0,1.3,1.4,1.4,1.3,1.3,1.4,1.3,1.4,1.3,1.4,1.3,1.3,1.3,1.3,1.3,1.3,1.4,1.3,
 1.3,1.3,1.3,1.3,1.3,1.3,1.3,1.3,1.3,1.6,1.3,1.3,1.2,1.3,1.3,1.3,1.3,1.3,1.9,1.3,
 1.2,1.3,1.3,1.2,1.3,1.2,1.3,1.2,1.3,1.2,1.2,1.3,1.3,1.2,1.3,1.3,2.2,1.3,1.2,1.3,
 1.6,1.3,1.3,1.2,1.3,1.4,1.3,1.3,1.3,1.3,1.3,1.3,1.3,1.3,1.3,1.3,1.3,1.3,1.3,1.3,
 1.3,1.3,1.3,1.2,1.3,1.3,1.2,1.8,2.0,1.3,1.3,1.2,1.3,1.3,1.2,1.3,1.2,1.3,1.2,1.3,
 1.2,1.3,1.3,1.2,1.3,1.2,1.3,1.6,1.8,1.9,1.9,1.3,1.4,1.3,1.3,1.2,1.3,1.3,1.3,1.2,
 1.3,1.2,1.3,1.3,1.2,1.4,1.3,1.3,1.6,1.3,1.5,1.3,1.2,1.6,1.3,1.3,1.4,1.2,1.3,1.5,
 1.3,1.4,1.5,1.3,1.3,1.2,1.3,1.3,1.2,1.3,1.2,1.3,1.3,1.2,1.3,1.5,1.2,1.3,1.3,1.3,
 1.3,1.2,2.2,1.3,1.3,1.4,1.2,1.3,2.4,1.4,1.3,1.3,1.6,1.3,1.2,1.3,1.3,1.2,1.3,1.3,
 1.5,1.3,1.3,1.3,1.3,1.3,1.3,1.4,1.4,1.5,1.3,1.3,1.3,1.2,1.3,1.3,1.3,1.2,1.3,1.4,
 1.3,1.3,1.2,1.3,1.3,1.2,1.3,1.3,1.2,1.3,1.3,1.4,1.3,1.2,1.3,1.3,1.2,1.3,1.3,1.2,
 1.3,1.3,1.3,1.2,1.4,1.3,2.4,2.4,1.3,2.4,1.3,1.2,1.3,1.2,1.2,1.2,1.2,1.2,1.2,1.2,
 1.2,2.4,1.2,1.2,1.2,1.2,1.2,1.2,1.2,1.3,1.3,1.4,1.8,1.3,1.7,1.9,1.8,1.9,1.8,1.9,
 1.8,1.9,1.9,1.7,1.8,1.3,1.6,1.5,1.9,1.3,1.6,1.3,1.3,1.3,1.3,1.8,1.9,1.8,1.8,1.7,
 1.3,1.8,1.3,1.3,1.6,1.3,1.3,1.3,1.3,1.3,1.3,1.3,1.3,1.3,1.3,1.3,1.7,1.3,1.3,1.3,
 1.9,1.3,1.3,1.3,1.3,1.3,1.3,1.3,1.4,1.3,1.3,1.3,1.5,1.3,1.3,1.2,1.3,1.3,1.3,1.2,
 1.3,1.3,1.2,1.3,1.3,1.3,1.2,1.3,1.3,1.3,1.3,1.2,1.3,1.3,1.3,1.3,1.3,1.3,1.3,1.3,
 1.3,1.3,1.3,1.3,1.3,1.3,1.3,1.3,1.7,1.3,1.3,2.0,1.6,1.5,1.4,1.5,1.5,1.6,1.3,1.3
];

const panelTitles = ['north', 'east', 'height', 'height RMS', 'north RMS'];
const unitLabel = 'mm';

// ---- build sample times ----
const scatterYears = northValues.map((_, i) => scatterStart + i * scatterStep);
const scatterYearsB = northValuesB.map((_, i) => scatterStart + (i + 0.5) * scatterStep);
const rmsYears = heightRms.map((_, i) => rmsStart + i * rmsStep);

const FONT = 'Liberation Sans, Arial, Helvetica, sans-serif';
const dotMarker = {size: 6, color: '#000000', line: {width: 0}};
const trendLine = {color: '#ff0000', width: 4, shape: 'spline', smoothing: 1};

const dots = (x, y, xa, ya) => ({x: x, y: y, xaxis: xa, yaxis: ya, mode: 'markers', type: 'scatter', marker: dotMarker, hoverinfo: 'skip'});
const curve = (x, y, xa, ya) => ({x: x, y: y, xaxis: xa, yaxis: ya, mode: 'lines', type: 'scatter', line: trendLine, hoverinfo: 'skip'});

const traces = [
  dots(scatterYears, northValues, 'x', 'y'),
  dots(scatterYearsB, northValuesB, 'x', 'y'),
  curve(northTrendYears, northTrend, 'x', 'y'),
  dots(scatterYears, eastValues, 'x2', 'y2'),
  dots(scatterYearsB, eastValuesB, 'x2', 'y2'),
  curve(eastTrendYears, eastTrend, 'x2', 'y2'),
  dots(scatterYears, heightValues, 'x3', 'y3'),
  dots(scatterYearsB, heightValuesB, 'x3', 'y3'),
  curve(heightTrendYears, heightTrend, 'x3', 'y3'),
  {x: rmsYears, y: heightRms, xaxis: 'x4', yaxis: 'y4', mode: 'lines', type: 'scatter', line: {color: '#000000', width: 1}, hoverinfo: 'skip'},
  {x: rmsYears, y: northRms, xaxis: 'x4', yaxis: 'y4', mode: 'lines', type: 'scatter', line: {color: '#ff0000', width: 1}, hoverinfo: 'skip'}
];

const hiddenX = (anchor) => ({domain: [0, 1], range: [2002, 2008], visible: false, anchor: anchor, fixedrange: true});
const yAxis = (domain, range, tv, tt, minor, anchor, fs, standoff) => ({
  domain: domain, range: range, anchor: anchor,
  showline: true, linecolor: '#000', linewidth: 2, mirror: false,
  ticks: 'outside', ticklen: 12, tickwidth: 2, tickcolor: '#000',
  tickmode: 'array', tickvals: tv, ticktext: tt, ticklabelstandoff: standoff,
  minor: {tickmode: 'array', tickvals: minor, ticks: 'outside', ticklen: 6, tickwidth: 2, tickcolor: '#000', showgrid: false},
  tickfont: {family: FONT, size: fs, color: '#000'},
  showgrid: false, zeroline: false, fixedrange: true
});

const ann = (text, x, y, size) => ({text: text, x: x, y: y, xref: 'paper', yref: 'paper', showarrow: false,
  xanchor: 'center', yanchor: 'middle', font: {family: FONT, size: size, color: '#000'}});

const layout = {
  width: 1165, height: 585,
  margin: {l: 77, r: 31, t: 39, b: 28, pad: 0},
  paper_bgcolor: '#ffffff', plot_bgcolor: '#ffffff',
  showlegend: false,
  font: {family: FONT, color: '#000'},
  xaxis: hiddenX('y'),
  xaxis2: hiddenX('y2'),
  xaxis3: hiddenX('y3'),
  xaxis4: {
    domain: [0, 1], range: [2002, 2008], anchor: 'y4',
    showline: true, linecolor: '#000', linewidth: 2,
    ticks: 'outside', ticklen: 7, tickwidth: 2, tickcolor: '#000',
    tickmode: 'array', tickvals: yearTicks, ticktext: yearLabels,
    ticklabelstandoff: -9, ticklabelshift: -4, ticklabeloverflow: 'allow',
    minor: {tickmode: 'array', tickvals: halfYearTicks, ticks: 'outside', ticklen: 4, tickwidth: 2, tickcolor: '#000', showgrid: false},
    tickfont: {family: FONT, size: 20, color: '#000'},
    showgrid: false, zeroline: false, fixedrange: true
  },
  yaxis: yAxis([0.794, 1.0], [-15, 15], neTicks, neLabels, neMinor, 'x', 22, 2),
  yaxis2: yAxis([0.5637, 0.7697], [-15, 15], neTicks, neLabels, neMinor, 'x2', 22, 2),
  yaxis3: yAxis([0.332, 0.540], [-25, 25], hTicks, hLabels, hMinor, 'x3', 18, 0),
  yaxis4: yAxis([0, 0.2915], [0.55, 10], rmsTicks, rmsLabels, rmsMinor, 'x4', 22, -3),
  annotations: [
    ann(panelTitles[0], 0.460, 0.978, 22),
    ann(panelTitles[1], 0.468, 0.743, 22),
    ann(panelTitles[2], 0.482, 0.512, 22),
    ann(panelTitles[3], 0.502, 0.271, 22),
    ann(panelTitles[4], 0.502, 0.068, 22),
    ann(unitLabel, -0.034, 1.027, 22)
  ]
};

Plotly.newPlot('chart', traces, layout, {staticPlot: true, displayModeBar: false});
</script>
</body>
</html>
